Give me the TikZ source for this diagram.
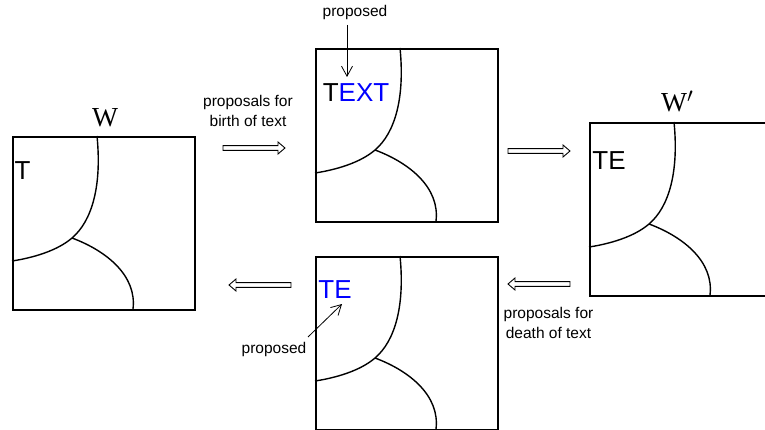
\documentclass[tikz,border=0pt]{standalone}
\usepackage{fontspec}
\setmainfont{Liberation Sans}
\newfontfamily\serifW{Liberation Serif}
\usetikzlibrary{arrows.meta}
\definecolor{tblue}{RGB}{0,0,255}
\tikzset{
  world/.style={draw, line width=1.8pt, minimum width=182pt, minimum height=173pt, inner sep=0pt, anchor=north west},
  region/.style={line width=1.4pt},
  lbl/.style={font=\fontsize{15.5}{20}\selectfont, align=center, inner sep=0pt},
  big/.style={font=\fontsize{26}{30}\selectfont, inner sep=0pt},
  wlbl/.style={font=\serifW\fontsize{27.5}{30}\selectfont, inner sep=0pt},
  pointer/.style={line width=0.8pt, -{Straight Barb[length=10pt,width=11pt]}},
  hollow/.style={line width=0.9pt, fill=white},
  harrow/.pic={\draw[hollow] (0,-2.4) -- (55,-2.4) -- (55,-6) -- (62,0) -- (55,6) -- (55,2.4) -- (0,2.4) -- cycle;}
}
\newcommand\worldregions[1]{%
  \begin{scope}[shift={(#1.north west)}]
    \draw[region] (85,0) .. controls (90,50) and (80,85) .. (60,102)
                         .. controls (45,115) and (20,122) .. (0,125);
    \draw[region] (60,102) .. controls (95,115) and (125,140) .. (121,173);
  \end{scope}}
\begin{document}
\begin{tikzpicture}[x=1pt,y=-1pt]
  \clip (0,0) rectangle (765,430);
  % worlds
  \node[world] (b1) at (12,136) {};
  \node[world] (b2) at (315,48) {};
  \node[world] (b3) at (589,122) {};
  \node[world] (b4) at (315,256) {};
  \worldregions{b1}
  \worldregions{b2}
  \worldregions{b3}
  \worldregions{b4}
  % world labels
  \node[wlbl, anchor=base west] (w) at (92,127) {W};
  \node[wlbl, anchor=base west] (wp) at (661,112) {W$'$};
  % texts in worlds
  \node[big] (t1) at (22.5,171) {T};
  \node[big] (t2) at (356,93) {T\textcolor{tblue}{EXT}};
  \node[big] (t3) at (609,161) {TE};
  \node[big, text=tblue] (t4) at (335,290) {TE};
  % labels
  \node[lbl, anchor=base] (prop1) at (355,17) {proposed};
  \node[lbl, anchor=base] (birth) at (248,127) {proposals for\\birth of text};
  \node[lbl, anchor=base] (prop2) at (274,353) {proposed};
  \node[lbl, anchor=base] (death) at (548.5,338) {proposals for\\death of text};
  % pointers
  \coordinate (p1s) at (347,25);
  \coordinate (p1e) at (347,77);
  \coordinate (p2s) at (308,337);
  \coordinate (p2e) at (342,304);
  \draw[pointer] (p1s) -- (p1e);
  \draw[pointer] (p2s) -- (p2e);
  % hollow arrows
  \pic at (223,148) {harrow};
  \pic at (508,151) {harrow};
  \pic[rotate=180] at (570,284) {harrow};
  \pic[rotate=180] at (291,285) {harrow};
\end{tikzpicture}
\end{document}
